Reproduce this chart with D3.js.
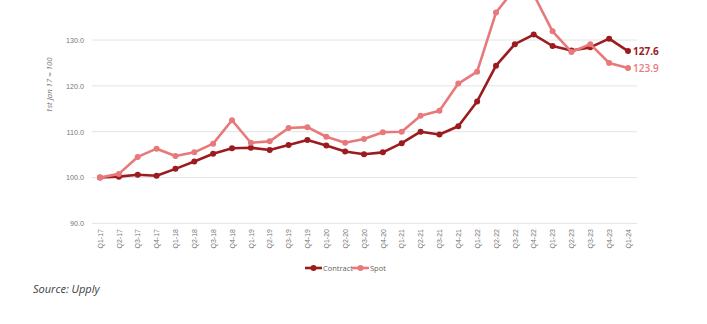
<!DOCTYPE html>
<html>
<head>
<meta charset="utf-8">
<script src="https://cdn.jsdelivr.net/npm/d3@7/dist/d3.min.js"></script>
<style>
  html, body { margin: 0; padding: 0; background: #fff; }
  svg { display: block; font-family: "Open Sans", sans-serif; }
</style>
</head>
<body>
<svg id="chart" width="707" height="324"></svg>
<script>
// Quarterly freight rate index, 1st Jan 17 = 100
const quarters = [
  "Q1-17","Q2-17","Q3-17","Q4-17",
  "Q1-18","Q2-18","Q3-18","Q4-18",
  "Q1-19","Q2-19","Q3-19","Q4-19",
  "Q1-20","Q2-20","Q3-20","Q4-20",
  "Q1-21","Q2-21","Q3-21","Q4-21",
  "Q1-22","Q2-22","Q3-22","Q4-22",
  "Q1-23","Q2-23","Q3-23","Q4-23",
  "Q1-24"
];
const contract = [
  100.0, 100.2, 100.6, 100.4,
  101.9, 103.5, 105.2, 106.4,
  106.5, 106.0, 107.1, 108.2,
  107.0, 105.7, 105.1, 105.5,
  107.5, 110.0, 109.4, 111.2,
  116.6, 124.4, 129.1, 131.2,
  128.7, 127.7, 128.4, 130.3,
  127.6
];
const spot = [
  100.0, 100.8, 104.5, 106.3,
  104.7, 105.5, 107.4, 112.5,
  107.6, 107.9, 110.8, 111.0,
  108.9, 107.6, 108.4, 109.9,
  110.0, 113.5, 114.6, 120.5,
  123.1, 136.0, 141.2, 139.9,
  131.9, 127.4, 129.1, 125.0,
  123.9
];
const yTicks = [90, 100, 110, 120, 130];

const series = [
  { name: "Contract", values: contract, color: "#9b1b1e", labelWeight: 700 },
  { name: "Spot", values: spot, color: "#e8797b", labelWeight: 600 }
];

const svg = d3.select("#chart");

const x = d3.scalePoint().domain(quarters).range([100, 628]);
const y = d3.scaleLinear().domain([90, 140]).range([223.4, -5.8]);

// Horizontal gridlines
svg.append("g")
  .selectAll("line")
  .data(yTicks)
  .join("line")
  .attr("x1", 92).attr("x2", 637)
  .attr("y1", d => y(d)).attr("y2", d => y(d))
  .attr("stroke", "#e3e3e3")
  .attr("stroke-width", 1);

// Y axis labels
const yAxis = d3.axisLeft(y).tickValues(yTicks).tickFormat(d3.format(".1f")).tickSize(0).tickPadding(0);
const gy = svg.append("g").attr("transform", "translate(84,0)").call(yAxis);
gy.select(".domain").remove();
gy.selectAll("text")
  .attr("fill", "#777")
  .style("font-size", "7.2px");

// Y axis title
svg.append("text")
  .attr("transform", "translate(52,85) rotate(-90)")
  .attr("text-anchor", "middle")
  .attr("fill", "#777")
  .style("font-size", "7.8px")
  .style("font-style", "italic")
  .text("1st Jan 17 = 100");

// X axis labels (rotated)
const xAxis = d3.axisBottom(x).tickSize(0).tickPadding(0);
const gx = svg.append("g").attr("transform", "translate(0,229)").call(xAxis);
gx.select(".domain").remove();
gx.selectAll("text")
  .attr("fill", "#777")
  .style("font-size", "7px")
  .attr("text-anchor", "end")
  .attr("dy", "0.32em")
  .attr("transform", "rotate(-90)")
  .attr("x", 0)
  .attr("y", 0);

// Lines and markers (spot drawn above contract)
const line = d3.line()
  .x((d, i) => x(quarters[i]))
  .y(d => y(d));

series.forEach(s => {
  const g = svg.append("g");
  g.append("path")
    .datum(s.values)
    .attr("d", line)
    .attr("fill", "none")
    .attr("stroke", s.color)
    .attr("stroke-width", 2.6)
    .attr("stroke-linejoin", "round");
  g.selectAll("circle")
    .data(s.values)
    .join("circle")
    .attr("cx", (d, i) => x(quarters[i]))
    .attr("cy", d => y(d))
    .attr("r", 3)
    .attr("fill", s.color);
  const last = s.values.length - 1;
  g.append("text")
    .attr("x", x(quarters[last]) + 5)
    .attr("y", y(s.values[last]))
    .attr("dy", "0.35em")
    .attr("fill", s.color)
    .style("font-size", "10px")
    .style("font-weight", s.labelWeight)
    .text(s.values[last].toFixed(1));
});

// Legend
const legendItems = [
  { name: "Contract", color: series[0].color, x: 305 },
  { name: "Spot", color: series[1].color, x: 352 }
];
const lg = svg.append("g").attr("transform", "translate(0,268)");
legendItems.forEach(it => {
  lg.append("line")
    .attr("x1", it.x).attr("x2", it.x + 17)
    .attr("y1", 0).attr("y2", 0)
    .attr("stroke", it.color).attr("stroke-width", 2.6);
  lg.append("circle")
    .attr("cx", it.x + 8.5).attr("cy", 0).attr("r", 3)
    .attr("fill", it.color);
  lg.append("text")
    .attr("x", it.x + 18)
    .attr("y", 0)
    .attr("dy", "0.35em")
    .attr("fill", "#5f5f5f")
    .style("font-size", "7.5px")
    .text(it.name);
});

// Source note
svg.append("text")
  .attr("x", 33)
  .attr("y", 293)
  .attr("fill", "#404040")
  .style("font-size", "11px")
  .style("font-style", "italic")
  .text("Source: Upply");
</script>
</body>
</html>
